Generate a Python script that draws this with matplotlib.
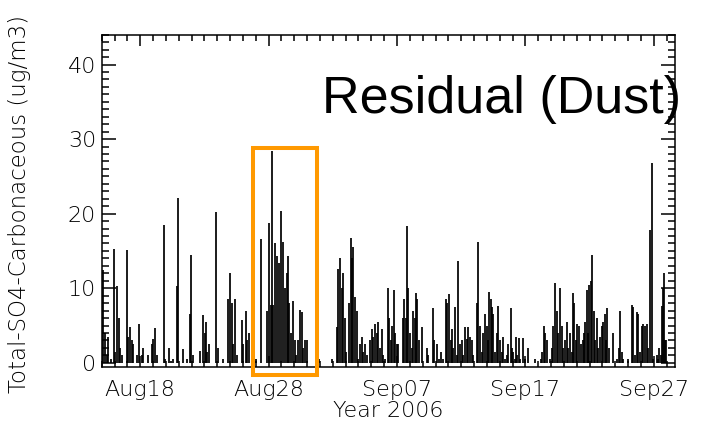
import numpy as np
import matplotlib
matplotlib.use('Agg')
import matplotlib.pyplot as plt
import matplotlib.dates as mdates
from matplotlib.ticker import MultipleLocator, FixedLocator, FixedFormatter
from matplotlib.patches import Rectangle

# time in days after 2006-08-15 00:00, concentration in ug/m3
t_day = [0.12, 0.26, 0.39, 0.52, 0.70, 0.96, 1.06, 1.22, 1.32, 1.43, 1.56, 1.68,
         1.95, 2.07, 2.20, 2.34, 2.46, 2.72, 2.93, 3.12, 3.24, 3.45, 3.63, 3.89,
         4.02, 4.15, 4.28, 4.54, 4.85, 4.95, 5.26, 5.40, 5.58, 5.89, 5.97, 6.10,
         6.36, 6.67, 6.88, 6.98, 7.14, 7.40, 7.66, 7.91, 8.02, 8.10, 8.22, 8.33,
         8.57, 8.90, 9.08, 9.27, 9.47, 9.74, 9.86, 9.99, 10.12, 10.25, 10.38, 10.51,
         10.72, 10.90, 11.03, 11.24, 11.34, 11.50, 11.68, 11.99, 12.20, 12.38, 12.48, 12.90,
         13.05, 13.16, 13.24, 13.34, 13.50, 13.63, 13.79, 13.94, 14.10, 14.28, 14.41, 14.53,
         14.61, 14.77, 14.92, 15.03, 15.13, 15.29, 15.44, 15.60, 15.70, 15.83, 16.01, 16.12,
         16.95, 17.06, 17.91, 18.01, 18.30, 18.43, 18.56, 18.69, 18.82, 18.93, 19.03, 19.13,
         19.28, 19.42, 19.52, 19.60, 19.73, 19.86, 19.98, 20.12, 20.25, 20.37, 20.51, 20.64,
         20.76, 20.90, 21.03, 21.15, 21.29, 21.42, 21.54, 21.67, 21.81, 21.93, 22.06, 22.27,
         22.40, 22.53, 22.63, 22.76, 22.87, 22.98, 23.10, 23.23, 23.44, 23.54, 23.70, 23.80,
         23.88, 24.01, 24.14, 24.27, 24.40, 24.48, 24.58, 24.74, 24.92, 25.05, 25.31, 25.44,
         25.62, 25.78, 25.88, 26.09, 26.25, 26.40, 26.56, 26.68, 26.82, 26.92, 27.07, 27.18,
         27.28, 27.38, 27.52, 27.65, 27.77, 27.91, 28.04, 28.16, 28.29, 28.43, 28.55, 28.68,
         28.82, 28.94, 29.07, 29.25, 29.33, 29.46, 29.60, 29.72, 29.85, 29.98, 30.11, 30.19,
         30.30, 30.40, 30.50, 30.63, 30.76, 30.89, 31.02, 31.15, 31.28, 31.41, 31.54, 31.67,
         31.85, 31.95, 32.06, 32.19, 32.27, 32.37, 32.48, 32.58, 32.71, 32.84, 32.94, 33.10,
         33.22, 33.36, 33.75, 33.88, 34.19, 34.29, 34.45, 34.55, 34.66, 34.76, 34.91, 35.05,
         35.17, 35.30, 35.44, 35.56, 35.69, 35.83, 35.95, 36.08, 36.22, 36.34, 36.47, 36.60,
         36.68, 36.81, 36.91, 37.04, 37.17, 37.31, 37.46, 37.56, 37.66, 37.77, 37.87, 37.98,
         38.08, 38.21, 38.34, 38.44, 38.55, 38.68, 38.81, 38.94, 39.07, 39.20, 39.28, 39.38,
         39.49, 39.59, 39.84, 39.98, 40.16, 40.26, 40.37, 40.50, 40.62, 40.76, 41.01, 41.15,
         41.28, 41.41, 41.54, 41.67, 41.80, 41.93, 42.06, 42.19, 42.32, 42.45, 42.58, 42.71,
         42.84, 42.97, 43.10, 43.22, 43.35, 43.43, 43.54, 43.61, 43.73, 43.78, 43.88, 43.94]
conc = [12.5, 4.0, 1.0, 3.5, 0.5, 15.3, 1.5, 10.3, 6.0, 2.0, 1.0, 0.0,
        15.1, 3.5, 4.8, 3.0, 2.5, 1.0, 5.2, 1.0, 2.0, 0.0, 1.0, 2.5,
        3.2, 4.7, 1.0, 0.0, 18.5, 0.5, 2.0, 0.3, 0.5, 10.3, 22.1, 0.0,
        1.8, 0.5, 6.5, 14.5, 1.0, 0.0, 1.6, 6.4, 4.0, 5.5, 1.5, 2.5,
        0.0, 20.2, 2.0, 0.0, 0.5, 0.0, 8.5, 12.1, 8.0, 2.5, 8.5, 1.0,
        0.0, 5.8, 2.5, 7.0, 3.0, 4.0, 0.0, 0.5, 0.0, 16.6, 0.0, 7.0,
        18.8, 7.8, 28.4, 7.8, 16.1, 14.3, 13.4, 20.3, 16.2, 10.0, 12.0, 14.3,
        8.0, 4.0, 8.3, 3.0, 1.0, 3.0, 7.1, 6.8, 2.0, 3.0, 3.0, 0.0,
        0.5, 0.0, 0.5, 0.0, 4.8, 12.6, 14.0, 10.0, 12.0, 6.0, 1.5, 0.0,
        8.0, 16.7, 14.0, 15.5, 8.8, 7.0, 0.5, 2.5, 3.5, 1.5, 2.5, 1.0,
        0.0, 3.0, 4.5, 3.5, 5.2, 4.0, 5.5, 2.0, 4.5, 1.0, 0.5, 10.0,
        6.0, 3.0, 5.0, 9.7, 4.0, 2.5, 2.5, 0.0, 6.0, 8.5, 6.0, 18.3,
        10.0, 4.0, 2.0, 7.0, 6.0, 9.3, 8.5, 3.0, 4.8, 0.0, 2.0, 1.0,
        0.0, 7.3, 3.0, 2.5, 0.5, 1.5, 0.5, 0.0, 8.6, 8.0, 9.2, 3.0,
        4.5, 2.0, 7.5, 1.0, 13.7, 2.5, 3.0, 1.0, 4.8, 3.2, 4.8, 3.5,
        3.0, 1.0, 0.0, 8.0, 16.2, 5.0, 1.5, 4.0, 6.5, 5.0, 3.0, 9.5,
        8.5, 7.5, 6.5, 1.5, 4.0, 7.6, 3.0, 1.5, 3.5, 0.5, 1.0, 2.5,
        7.3, 2.0, 1.5, 0.5, 3.5, 1.0, 3.3, 0.5, 0.0, 3.3, 0.5, 0.0,
        2.0, 0.0, 0.5, 0.0, 0.5, 1.5, 5.0, 4.0, 3.0, 0.0, 0.5, 2.0,
        5.0, 10.7, 7.0, 4.0, 10.0, 5.0, 2.0, 3.0, 5.5, 2.0, 4.0, 1.5,
        9.4, 8.0, 3.0, 5.2, 5.0, 2.5, 3.0, 4.0, 5.5, 9.8, 4.0, 10.5,
        11.0, 14.5, 7.0, 3.0, 6.0, 2.0, 3.5, 5.0, 5.5, 6.5, 3.0, 7.3,
        2.0, 0.0, 4.0, 0.0, 0.5, 2.0, 6.9, 1.5, 0.5, 0.0, 0.5, 0.0,
        7.7, 7.5, 1.0, 6.8, 6.5, 1.5, 5.0, 5.2, 5.0, 5.2, 2.0, 17.8,
        26.8, 0.5, 0.0, 1.0, 0.5, 2.0, 1.0, 7.6, 10.0, 12.1, 3.0, 3.0]

tick_dates = ['2006-08-18', '2006-08-28', '2006-09-07', '2006-09-17', '2006-09-27']
tick_labels = ['Aug18', 'Aug28', 'Sep07', 'Sep17', 'Sep27']

start = mdates.date2num(np.datetime64('2006-08-15'))
x = start + np.array(t_day)

fig = plt.figure(figsize=(7.02, 4.25), dpi=100)
ax = fig.add_axes([0.1449, 0.1358, 0.8166, 0.7826])

# hourly spikes, drawn as vertical strokes from the baseline
ax.vlines(x, 0, conc, color='black', lw=1.25)

ax.set_xlim(start, start + 44.65)
ax.set_ylim(-0.6, 44)

ax.xaxis.set_major_locator(FixedLocator(mdates.date2num(np.array(tick_dates, dtype='datetime64[D]'))))
ax.xaxis.set_major_formatter(FixedFormatter(tick_labels))
ax.xaxis.set_minor_locator(mdates.DayLocator())
ax.yaxis.set_major_locator(FixedLocator([0, 10, 20, 30, 40]))
ax.yaxis.set_minor_locator(MultipleLocator(1))

ax.tick_params(which='both', direction='in', top=True, right=True, width=1.1, colors='black')
ax.tick_params(axis='x', which='major', length=8, pad=9)
ax.tick_params(axis='x', which='minor', length=4)
ax.tick_params(axis='y', which='major', length=10, pad=4)
ax.tick_params(axis='y', which='minor', length=5)
for lab in ax.get_xticklabels() + ax.get_yticklabels():
    lab.set_fontsize(16)
    lab.set_family('DejaVu Sans')
    lab.set_fontweight('light')
for sp in ax.spines.values():
    sp.set_linewidth(1.1)

ax.set_xlabel('Year 2006', fontsize=16, labelpad=1, fontweight='light')
fig.text(20 / 702, 1 - 204 / 425, 'Total-SO4-Carbonaceous (ug/m3)', rotation=90,
         ha='center', va='center', fontsize=16.5, fontweight='light')

# highlight box around the late-August dust event
ax.add_patch(Rectangle((start + 11.78, -1.63), 5.0, 30.39, fill=False,
                       edgecolor='#FF9900', lw=2.9, clip_on=False, zorder=5))

fig.text(681 / 702, 1 - 100 / 425, 'Residual (Dust)', ha='right', va='center',
         fontsize=37.5, family='Liberation Sans')

fig.savefig('out.png', dpi=100)
